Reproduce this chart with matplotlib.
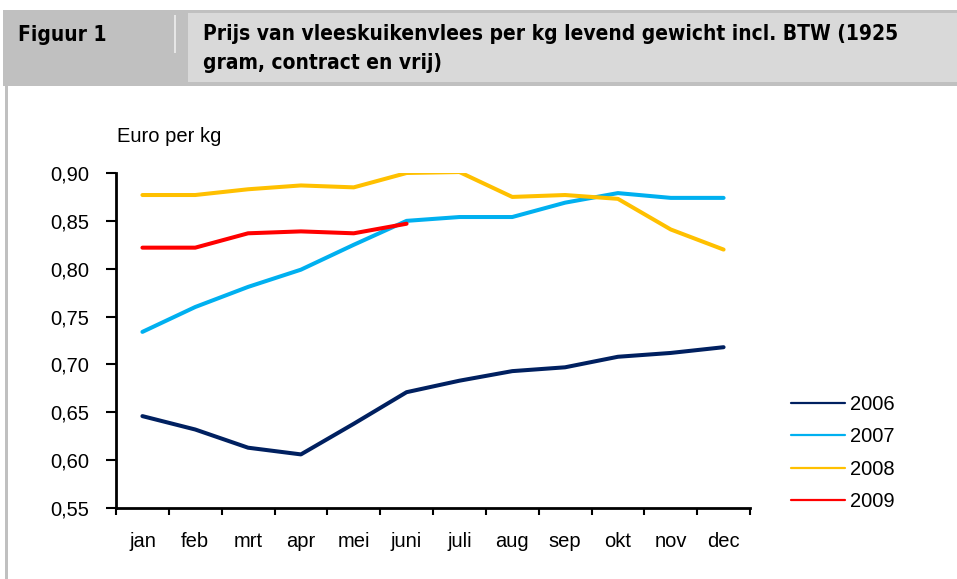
import matplotlib.pyplot as plt
from matplotlib.patches import Rectangle
from matplotlib.ticker import FuncFormatter, FixedLocator

months = ['jan', 'feb', 'mrt', 'apr', 'mei', 'juni', 'juli', 'aug', 'sep', 'okt', 'nov', 'dec']
p2006 = [0.646, 0.632, 0.613, 0.606, 0.638, 0.671, 0.683, 0.693, 0.697, 0.708, 0.712, 0.718]
p2007 = [0.734, 0.760, 0.781, 0.799, 0.825, 0.850, 0.854, 0.854, 0.869, 0.879, 0.874, 0.874]
p2008 = [0.877, 0.877, 0.883, 0.887, 0.885, 0.900, 0.901, 0.875, 0.877, 0.873, 0.841, 0.820]
p2009 = [0.822, 0.822, 0.837, 0.839, 0.837, 0.847]
years = ['2006', '2007', '2008', '2009']
colors = ['#002060', '#00B0F0', '#FFC000', '#FF0000']

W, H = 957, 579
plt.rcParams['font.family'] = ['Liberation Sans', 'DejaVu Sans']
fig = plt.figure(figsize=(W/100, H/100), dpi=100)

def px(x, y):
	return x/W, 1-y/H

def rect(x0, y0, x1, y1, c):
	fx, fy = px(x0, y1)
	fig.add_artist(Rectangle((fx, fy), (x1-x0)/W, (y1-y0)/H, transform=fig.transFigure, color=c, lw=0, zorder=0))

# header and border
rect(3, 10, W, 86, '#c0c0c0')
rect(188, 13, W, 82, '#d9d9d9')
rect(174, 15, 176, 53, '#e6e6e6')
rect(5, 10, 8, H, '#c0c0c0')

hkw = dict(family='DejaVu Sans', stretch='condensed', weight='bold', fontsize=15, va='center', ha='left')
fig.text(*px(18, 35), 'Figuur 1', **hkw)
fig.text(*px(203, 34), 'Prijs van vleeskuikenvlees per kg levend gewicht incl. BTW (1925', **hkw)
fig.text(*px(203, 63), 'gram, contract en vrij)', **hkw)

fs = 14.5
fig.text(*px(117, 137), 'Euro per kg', fontsize=fs, va='center', ha='left')

l, b = px(116, 508)
r, t = px(750, 173)
ax = fig.add_axes([l, b, r-l, t-b])
x = range(len(months))
data = [p2006, p2007, p2008, p2009]
for yr, vals, c in zip(years, data, colors):
	ax.plot(range(len(vals)), vals, color=c, lw=2.9, label=yr, solid_capstyle='round')

ax.set_xlim(-0.5, 11.5)
ax.set_ylim(0.55, 0.90)
ax.set_yticks([0.55, 0.60, 0.65, 0.70, 0.75, 0.80, 0.85, 0.90])
ax.yaxis.set_major_formatter(FuncFormatter(lambda v, p: ('%.2f' % v).replace('.', ',')))
ax.xaxis.set_major_locator(FixedLocator([i-0.5 for i in range(13)]))
ax.set_xticklabels([])
ax.set_xticks(list(x), minor=True)
ax.set_xticklabels(months, minor=True)
ax.tick_params(axis='x', which='major', direction='out', length=5, width=1.5)
ax.tick_params(axis='x', which='minor', length=0, pad=17, labelsize=fs)
ax.tick_params(axis='y', direction='out', length=7, width=1.5, pad=12, labelsize=fs)
for s in ['top', 'right']:
	ax.spines[s].set_visible(False)
for s in ['left', 'bottom']:
	ax.spines[s].set_linewidth(2)

leg = ax.legend(loc='upper left', bbox_to_anchor=px(791, 395), bbox_transform=fig.transFigure,
	frameon=False, fontsize=fs, handlelength=2.7, handletextpad=0.25, labelspacing=0.67,
	borderpad=0, borderaxespad=0)
for h in leg.get_lines():
	h.set_linewidth(1.6)

fig.savefig('out.png', dpi=100)
